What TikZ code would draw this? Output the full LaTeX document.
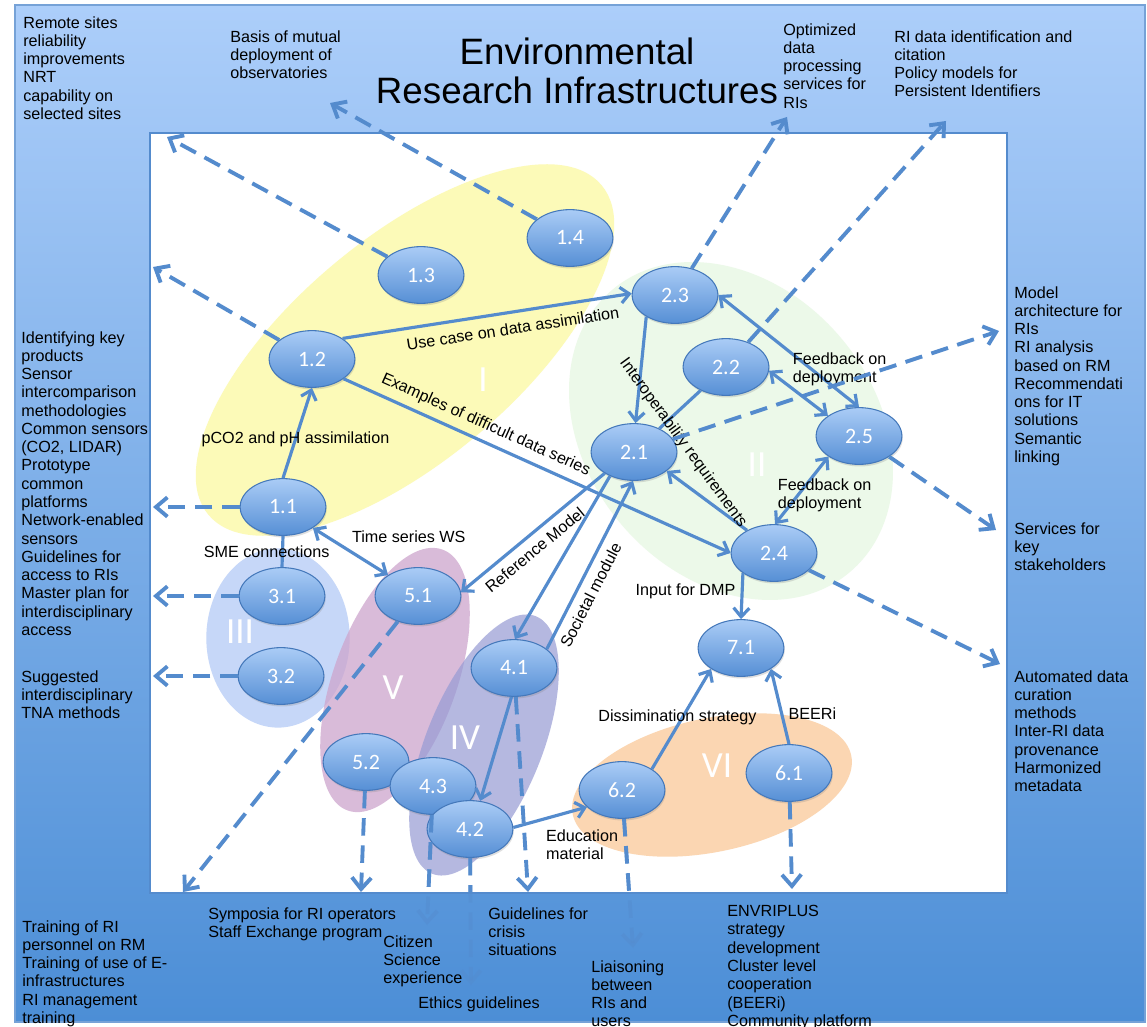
\documentclass[tikz,border=0pt]{standalone}
\usepackage{fontspec}
\setmainfont{Liberation Sans}
\newfontfamily\numfont{Carlito}
\usepackage{tikz}
\usepackage{xcolor}
\definecolor{frametop}{RGB}{172,206,250}
\definecolor{framebot}{RGB}{76,142,214}
\definecolor{linkblue}{RGB}{84,139,205}
\definecolor{nodetop}{RGB}{170,204,246}
\definecolor{nodebot}{RGB}{86,143,213}
\definecolor{nodeedge}{RGB}{68,120,186}
\definecolor{grpone}{RGB}{252,250,184}
\definecolor{grptwo}{RGB}{236,249,233}
\definecolor{grpthree}{RGB}{198,215,248}
\definecolor{grpfour}{RGB}{150,155,212}
\definecolor{grpfive}{RGB}{205,165,205}
\definecolor{grpsix}{RGB}{251,214,178}
\usetikzlibrary{positioning,arrows.meta,shapes.geometric,shadows}

\begin{document}
\begin{tikzpicture}[x=0.02cm,y=-0.02cm,
	>={Straight Barb[length=5pt,width=9pt]},
	task/.style={ellipse,draw=nodeedge,line width=0.6pt,top color=nodetop,bottom color=nodebot,minimum width=48.8pt,minimum height=32.3pt,inner sep=0pt,text=white,font=\numfont\fontsize{12.5}{14}\selectfont,drop shadow={opacity=0.25,shadow xshift=0.5pt,shadow yshift=-1.2pt}},
	link/.style={draw=linkblue,line width=1.8pt},
	feed/.style={draw=linkblue,line width=2.2pt,dash pattern=on 10pt off 5.5pt,-{Straight Barb[length=6.5pt,width=11pt]}},
	lbl/.style={font=\fontsize{9.2}{10.4}\selectfont,text=black,inner sep=1pt},
	note/.style={font=\fontsize{9.2}{10.4}\selectfont,text=black,align=left,anchor=north west,inner sep=0pt},
	grp/.style={text=white,font=\numfont\fontsize{21}{23}\selectfont}]
				\useasboundingbox (0,0) rectangle (1147,1027);
				\fill[white] (0,0) rectangle (1147,1027);
				% Frame
				\shade[top color=frametop,bottom color=framebot] (15,5) rectangle (1145,1022);
				\draw[linkblue!80,line width=0.8pt] (15,5) rectangle (1145,1022);
				\draw[linkblue,line width=1.2pt,fill=white] (150,133) rectangle (1007,893);
				\node[font=\fontsize{20.9}{22}\selectfont,align=center] (title) at (577,71) {Environmental\\Research Infrastructures};
				% Groups
				\fill[grptwo] (731,431) ellipse [x radius=105pt,y radius=82pt,rotate=-50];
				\fill[grpone] (405,350) ellipse [x radius=146pt,y radius=63.5pt,rotate=40];
				\fill[grpthree] (278,638) ellipse [x radius=40.8pt,y radius=51pt];
				\fill[grpfive,fill opacity=0.75] (395,680) ellipse [x radius=79pt,y radius=35pt,rotate=70];
				\fill[grpfour,fill opacity=0.7] (484,745) ellipse [x radius=79pt,y radius=33pt,rotate=68];
				\fill[grpsix] (712,785) ellipse [x radius=81pt,y radius=38pt,rotate=12];
				\node[grp] (gI) at (483,380) {I};
				\node[grp] (gII) at (757,465) {II};
				\node[grp] (gIII) at (240,632) {III};
				\node[grp] (gIV) at (465,738) {IV};
				\node[grp] (gV) at (393,688) {V};
				\node[grp] (gVI) at (717,766) {VI};
				% Tasks
				\node[task] (n11) at (283,507) {1.1};
				\node[task] (n12) at (312,359) {1.2};
				\node[task] (n13) at (421,275) {1.3};
				\node[task] (n14) at (570,238) {1.4};
				\node[task] (n23) at (675,295) {2.3};
				\node[task] (n22) at (726,367) {2.2};
				\node[task] (n21) at (634,452) {2.1};
				\node[task] (n25) at (859,436) {2.5};
				\node[task] (n24) at (774,553) {2.4};
				\node[task] (n31) at (282,596) {3.1};
				\node[task] (n32) at (281,676) {3.2};
				\node[task] (n51) at (418,596) {5.1};
				\node[task] (n41) at (514,668) {4.1};
				\node[task] (n52) at (366,762) {5.2};
				\node[task] (n43) at (433,786) {4.3};
				\node[task] (n42) at (470,829) {4.2};
				\node[task] (n71) at (741,648) {7.1};
				\node[task] (n62) at (622,790) {6.2};
				\node[task] (n61) at (789,773) {6.1};
				% Free ends of the outputs
				\coordinate []  (out11) at (153,507) ;
				\coordinate []  (out31) at (153,596) ;
				\coordinate []  (out32) at (153,676) ;
				\coordinate []  (out12) at (153,267) ;
				\coordinate []  (out13) at (167,137) ;
				\coordinate []  (out14) at (330,103) ;
				\coordinate []  (out23) at (787,117) ;
				\coordinate []  (out22) at (946,121) ;
				\coordinate []  (out21) at (999,331) ;
				\coordinate []  (out25) at (996,530) ;
				\coordinate []  (out24) at (1000,664) ;
				\coordinate []  (out51) at (183,892) ;
				\coordinate []  (out52) at (361,892) ;
				\coordinate []  (out43) at (427,925) ;
				\coordinate []  (out42) at (471,985) ;
				\coordinate []  (out41) at (528,892) ;
				\coordinate []  (out62) at (633,948) ;
				\coordinate []  (out61) at (792,889) ;
				% Links
				\path (n11.north) edge[link,->] node[lbl,pos=0.43] {pCO2 and pH assimilation} (n12.south);
				\path (n12.34) edge[link,->] node[lbl,sloped,below=4pt,pos=0.58] {Use case on data assimilation} (n23.178);
				\path (n12.-32) edge[link,->] node[lbl,sloped,above=3pt,pos=0.35] {Examples of difficult data series} (n24.west);
				\path (n23.217) edge[link,->] (n21.87);
				\path (n22) edge[link] (n21);
				\path (n23.east) edge[link,<->] (n25.north);
				\path (n22.-5) edge[link,<->] node[lbl,align=left,anchor=south west,pos=0.38,inner sep=0pt] {Feedback on\\deployment} (n25.147);
				\path (n25.214) edge[link,<->] node[lbl,align=left,midway,xshift=13pt,yshift=-3pt] {Feedback on\\deployment} (n24.88);
				\path (n24.140) edge[link,->] (n21.-30);
				\node[lbl,rotate=-54] (interop) at (683,443) {Interoperability requirements};
				\path (n24.213) edge[link,->] node[lbl,left=2pt,pos=0.4] {Input for DMP} (n71.north);
				\path (n21.216) edge[link,->] node[lbl,sloped,below=3pt,pos=0.55] {Reference Model} (n51.5);
				\path (n21.225) edge[link,->] (n41.88);
				\path (n41.30) edge[link,->] node[lbl,sloped,below=3pt,pos=0.36] {Societal module} (n21.268);
				\path (n41.265) edge[link,->] (n42.70);
				\path (n42.2) edge[link,->] node[lbl,align=left,anchor=north west,pos=0.4,yshift=-4pt] {Education\\material} (n62.206);
				\path (n62.35) edge[link,->] node[lbl,pos=0.52,xshift=-3pt] {Dissimination strategy} (n71.215);
				\path (n61.north) edge[link,->] node[lbl,right=2pt,pos=0.4] {BEERi} (n71.-35);
				\path (n11.-35) edge[link,<->] node[lbl,midway,anchor=south west,inner sep=0pt,yshift=4pt] {Time series WS} (n51.145);
				\path (n11.south) edge[link] node[lbl,midway,xshift=-9pt] {SME connections} (n31.north);
				% Outputs
				\path (n11) edge[feed] (out11);
				\path (n31) edge[feed] (out31);
				\path (n32) edge[feed] (out32);
				\path (n12) edge[feed] (out12);
				\path (n13) edge[feed] (out13);
				\path (n14) edge[feed] (out14);
				\path (n23) edge[feed] (out23);
				\path (n22) edge[feed] (out22);
				\path (n21) edge[feed] (out21);
				\path (n25) edge[feed] (out25);
				\path (n24) edge[feed] (out24);
				\path (n51) edge[feed] (out51);
				\path (n52) edge[feed] (out52);
				\path (n41) edge[feed] (out41);
				\path (n61) edge[feed] (out61);
				% pale below the frame
				\path (n43) edge[feed,draw opacity=0.45] (out43);
				\path (n42) edge[feed,draw opacity=0.45] (out42);
				\path (n62) edge[feed,draw opacity=0.45] (out62);
				\begin{scope}
					\clip (150,133) rectangle (1007,893);
					\path (n43) edge[feed] (out43);
					\path (n42) edge[feed] (out42);
					\path (n62) edge[feed] (out62);
				\end{scope}
				% Texts
				\node[note] (remote) at (23,16) {Remote sites\\reliability\\improvements\\NRT\\capability on\\selected sites};
				\node[note] (basis) at (230,30) {Basis of mutual\\deployment of\\observatories};
				\node[note] (optim) at (783,23) {Optimized\\data\\processing\\services for\\RIs};
				\node[note] (ident) at (894,30) {RI data identification and\\citation\\Policy models for\\Persistent Identifiers};
				\node[note] (model) at (1014,286) {Model\\architecture for\\RIs\\RI analysis\\based on RM\\Recommendati\\ons for IT\\solutions\\Semantic\\linking};
				\node[note] (serv) at (1014,522) {Services for\\key\\stakeholders};
				\node[note] (auto) at (1014,670) {Automated data\\curation\\methods\\Inter-RI data\\provenance\\Harmonized\\metadata};
				\node[note] (keyprod) at (21,331) {Identifying key\\products\\Sensor\\intercomparison\\methodologies\\Common sensors\\(CO2, LIDAR)\\Prototype\\common\\platforms\\Network-enabled\\sensors\\Guidelines for\\access to RIs\\Master plan for\\interdisciplinary\\access};
				\node[note] (tna) at (21,670) {Suggested\\interdisciplinary\\TNA methods};
				\node[note] (train) at (22,920) {Training of RI\\personnel on RM\\Training of use of E-\\infrastructures\\RI management\\training};
				\node[note] (symp) at (208,907) {Symposia for RI operators\\Staff Exchange program};
				\node[note] (citizen) at (383,935) {Citizen\\Science\\experience};
				\node[note] (crisis) at (488,907) {Guidelines for\\crisis\\situations};
				\node[note] (ethics) at (418,996) {Ethics guidelines};
				\node[note] (liaison) at (591,960) {Liaisoning\\between\\RIs and\\users};
				\node[note] (envri) at (727,905) {ENVRIPLUS\\strategy\\development\\Cluster level\\cooperation\\(BEERi)\\Community platform};
			\end{tikzpicture}
\end{document}
